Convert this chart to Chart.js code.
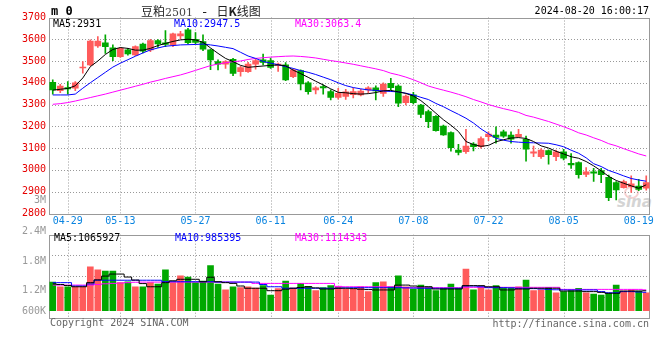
<!DOCTYPE html>
<html>
<head>
<meta charset="utf-8">
<script src="https://cdn.jsdelivr.net/npm/chart.js@4.4.1/dist/chart.umd.min.js"></script>
<style>
  html, body { margin: 0; padding: 0; background: #fff; }
  #wrap { position: relative; width: 660px; height: 360px; overflow: hidden;
          font-family: "DejaVu Sans Mono", monospace; font-size: 10px; }
  #wrap canvas { position: absolute; left: 0; top: 0; }
  .t { position: absolute; white-space: nowrap; line-height: 12px; }
  .vl { position: absolute; right: 614px; color: #999; line-height: 12px; text-align: right; }
</style>
</head>
<body>
<div id="wrap">
  <!-- watermark sits under the transparent canvases -->
  <div class="t" style="left:624px;top:186px;width:11px;height:9px;border:2px solid rgba(235,150,150,0.45);border-radius:50%"></div>
  <div class="t" style="left:617px;top:195px;font-family:'DejaVu Sans';font-style:italic;font-weight:bold;font-size:15px;line-height:15px;color:#d4d4d4">sina</div>

  <canvas id="kChart" width="660" height="360"></canvas>
  <canvas id="volChart" width="660" height="360"></canvas>

  <div class="t" style="left:51px;top:5px;font-weight:bold;font-size:12px">m 0</div>
  <div class="t" style="left:141px;top:2px;font-family:'Noto Sans CJK SC';font-size:12px;line-height:17px;color:#222">豆粕<span style="font-family:'DejaVu Serif';font-size:11px;color:#444">2501</span><span style="font-family:'DejaVu Sans Mono';font-size:13px"> - </span>日<b>K</b>线图</div>
  <div class="t" style="right:11px;top:5px;color:#000">2024-08-20 16:00:17</div>

  <div class="t" style="left:53px;top:18px;color:#000">MA5:2931</div>
  <div class="t" style="left:174px;top:18px;color:#0000ff">MA10:2947.5</div>
  <div class="t" style="left:295px;top:18px;color:#ff00ff">MA30:3063.4</div>

  <div class="vl" style="top:194px">3M</div>
  <div class="vl" style="top:225px">2.4M</div>
  <div class="vl" style="top:254.5px">1.8M</div>
  <div class="vl" style="top:284px">1.2M</div>
  <div class="vl" style="top:304.5px">600K</div>

  <div class="t" style="left:54px;top:232px;color:#000">MA5:1065927</div>
  <div class="t" style="left:175px;top:232px;color:#0000ff">MA10:985395</div>
  <div class="t" style="left:295px;top:232px;color:#ff00ff">MA30:1114343</div>

  <div class="t" style="left:50px;top:317px;color:#666">Copyright 2024 SINA.COM</div>
  <div class="t" style="right:11px;top:318px;color:#666">http://finance.sina.com.cn</div>
</div>

<script>
// trading days, 2024-04-25 .. 2024-08-20
const dates = [
  '04-25','04-26','04-29','04-30','05-06','05-07','05-08','05-09','05-10','05-13',
  '05-14','05-15','05-16','05-17','05-20','05-21','05-22','05-23','05-24','05-27',
  '05-28','05-29','05-30','05-31','06-03','06-04','06-05','06-06','06-07','06-11',
  '06-12','06-13','06-14','06-17','06-18','06-19','06-20','06-21','06-24','06-25',
  '06-26','06-27','06-28','07-01','07-02','07-03','07-04','07-05','07-08','07-09',
  '07-10','07-11','07-12','07-15','07-16','07-17','07-18','07-19','07-22','07-23',
  '07-24','07-25','07-26','07-29','07-30','07-31','08-01','08-02','08-05','08-06',
  '08-07','08-08','08-09','08-12','08-13','08-14','08-15','08-16','08-19','08-20'
];
const shownDates = ['04-29','05-13','05-27','06-11','06-24','07-08','07-22','08-05','08-19'];
const gridDates  = ['04-29','05-13','05-27','06-11','06-24','07-08','07-22','08-05'];

const opens = [
  3402,3364,3378,3375,3468,3482,3569,3584,3561,3520, 3551,3528,3578,3551,3594,3584,3574,3615,3643,3600,
  3589,3551,3497,3486,3508,3451,3451,3486,3505,3502, 3480,3482,3428,3456,3400,3367,3382,3359,3333,3337,
  3345,3344,3367,3377,3351,3397,3385,3309,3344,3298, 3267,3246,3201,3171,3091,3083,3118,3106,3152,3160,
  3175,3160,3152,3140,3076,3060,3088,3060,3083,3030, 3033,2979,2991,2996,2965,2941,2918,2922,2925,2915
];
const highs = [
  3413,3393,3405,3405,3497,3597,3612,3620,3574,3563, 3558,3570,3582,3600,3598,3640,3628,3636,3650,3631,
  3620,3555,3505,3502,3512,3476,3494,3508,3532,3514, 3490,3493,3462,3459,3405,3382,3390,3367,3374,3370,
  3376,3370,3382,3386,3400,3420,3390,3344,3356,3301, 3275,3249,3206,3175,3117,3186,3125,3152,3175,3198,
  3183,3175,3186,3155,3109,3097,3092,3091,3094,3075, 3037,3010,3007,3007,2976,2946,2953,2972,2956,2972
];
const lows = [
  3348,3354,3348,3364,3444,3479,3563,3535,3502,3517, 3527,3524,3537,3543,3563,3566,3566,3600,3578,3578,
  3548,3460,3459,3466,3433,3430,3447,3462,3482,3466, 3452,3410,3424,3367,3348,3349,3348,3321,3325,3324,
  3330,3340,3352,3321,3337,3368,3290,3298,3303,3240, 3194,3178,3158,3086,3068,3075,3087,3099,3134,3122,
  3149,3122,3149,3040,3060,3052,3026,3042,3045,3006, 2961,2968,2946,2941,2858,2862,2915,2896,2904,2906
];
const closes = [
  3367,3385,3372,3400,3472,3592,3592,3566,3520,3558, 3533,3566,3545,3594,3579,3576,3625,3625,3584,3585,
  3554,3505,3485,3497,3443,3470,3486,3502,3493,3471, 3486,3413,3459,3395,3359,3377,3376,3333,3351,3358,
  3360,3362,3377,3362,3394,3378,3306,3339,3309,3255, 3221,3180,3160,3102,3080,3109,3106,3144,3164,3149,
  3155,3141,3163,3095,3083,3091,3069,3083,3053,3022, 2977,2991,2985,2977,2872,2907,2946,2935,2910,2941
];

const ma5 = [
  3366,3370,3374,3386,3422,3474,3500,3530,3553,3562, 3558,3550,3550,3558,3571,3581,3590,3597,3600,3597,
  3586,3560,3535,3512,3497,3480,3471,3474,3477,3480, 3482,3478,3458,3442,3425,3407,3390,3372,3356,3354,
  3350,3348,3350,3355,3363,3365,3358,3351,3339,3318, 3290,3260,3230,3205,3176,3130,3116,3108,3112,3129,
  3138,3146,3148,3144,3130,3110,3100,3085,3073,3060, 3053,3038,3018,2995,2970,2951,2938,2926,2915,2931
];
const ma10 = [
  3344,3344,3344,3348,3375,3400,3424,3448,3472,3490, 3506,3522,3537,3551,3560,3568,3571,3574,3575,3576,
  3578,3574,3569,3563,3557,3540,3523,3512,3498,3490, 3483,3474,3466,3456,3448,3438,3426,3414,3400,3387,
  3378,3372,3367,3365,3362,3360,3358,3352,3344,3333, 3323,3305,3290,3272,3255,3237,3215,3188,3166,3145,
  3136,3130,3127,3125,3124,3123,3122,3115,3106,3090, 3076,3055,3028,3015,2997,2985,2972,2960,2953,2947.5
];
const ma30 = [
  3301,3304,3309,3316,3324,3332,3340,3348,3357,3366, 3375,3384,3393,3403,3411,3420,3428,3436,3446,3457,
  3468,3479,3486,3492,3497,3500,3507,3512,3515,3518, 3520,3522,3523,3521,3518,3514,3508,3502,3497,3491,
  3485,3478,3471,3464,3456,3444,3436,3426,3414,3400, 3385,3375,3366,3357,3347,3336,3323,3312,3300,3290,
  3281,3273,3264,3250,3242,3232,3222,3210,3198,3185, 3170,3160,3147,3135,3120,3110,3097,3085,3073,3063.4
];

// volume in lots
const volumes = [
  1530000,1270000,1270000,1270000,1270000,2340000,2180000,2120000,2120000,1500000,
  1550000,1270000,1270000,1500000,1430000,2180000,1500000,1870000,1800000,1500000,
  1590000,2410000,1430000,1110000,1270000,1230000,1270000,1210000,1340000,840000,
  1180000,1590000,1210000,1460000,1300000,1070000,1230000,1340000,1280000,1140000,
  1140000,1280000,1020000,1500000,1550000,1280000,1860000,1280000,1160000,1370000,
  1280000,1070000,1200000,1430000,1200000,2230000,1120000,1280000,1120000,1340000,
  1230000,1230000,1280000,1640000,1070000,1110000,1230000,960000,1020000,1070000,
  1200000,960000,890000,840000,930000,1370000,1050000,1110000,1050000,960000
];
const volMa5 = [
  1430000,1400000,1350000,1280000,1280000,1500000,1650000,1850000,1960000,1960000,
  1800000,1640000,1450000,1280000,1280000,1500000,1600000,1680000,1680000,1680000,
  1550000,1790000,1550000,1500000,1460000,1320000,1200000,1200000,1200000,1070000,
  1070000,1150000,1200000,1240000,1280000,1220000,1160000,1160000,1200000,1200000,
  1180000,1150000,1130000,1110000,1110000,1110000,1370000,1370000,1320000,1280000,
  1280000,1160000,1160000,1160000,1160000,1340000,1340000,1340000,1280000,1280000,
  1110000,1110000,1160000,1160000,1200000,1200000,1200000,1200000,1050000,1050000,
  1050000,1020000,1020000,980000,930000,930000,1050000,1050000,1050000,1065927
];
const volMa10 = [
  1500000,1500000,1500000,1320000,1320000,1430000,1630000,1630000,1630000,1630000,
  1630000,1630000,1630000,1630000,1630000,1550000,1550000,1550000,1550000,1550000,
  1550000,1550000,1530000,1530000,1530000,1530000,1530000,1530000,1400000,1280000,
  1280000,1200000,1200000,1200000,1200000,1200000,1200000,1200000,1210000,1220000,
  1230000,1230000,1230000,1230000,1230000,1230000,1230000,1220000,1210000,1200000,
  1200000,1200000,1200000,1200000,1200000,1320000,1320000,1280000,1230000,1230000,
  1230000,1220000,1200000,1200000,1180000,1160000,1140000,1120000,1110000,1110000,
  1110000,1110000,1110000,1020000,960000,960000,1020000,1020000,1000000,985395
];
const volMa30 = [
  1370000,1370000,1370000,1370000,1370000,1370000,1400000,1440000,1460000,1480000,
  1500000,1520000,1530000,1530000,1530000,1530000,1530000,1530000,1530000,1530000,
  1530000,1530000,1530000,1530000,1530000,1530000,1530000,1460000,1460000,1460000,
  1460000,1460000,1460000,1460000,1460000,1460000,1460000,1460000,1300000,1280000,
  1280000,1280000,1280000,1280000,1280000,1280000,1280000,1230000,1230000,1230000,
  1230000,1230000,1230000,1230000,1230000,1250000,1250000,1250000,1250000,1250000,
  1250000,1250000,1250000,1250000,1250000,1250000,1250000,1250000,1140000,1140000,
  1140000,1140000,1140000,1140000,1140000,1140000,1140000,1140000,1140000,1114343
];

const UP = '#ff5b5b';
const DOWN = '#00a800';
const GRID = '#999999';
const FRAME = '#999999';
const MONO = { family: 'DejaVu Sans Mono', size: 10 };

const candleColors = closes.map((c, i) => c >= opens[i] ? UP : DOWN);
const bodies = opens.map((o, i) => [o, closes[i]]);
const wicks = lows.map((l, i) => [l, highs[i]]);

// dotted grid at the date ticks and inner y ticks, plus a grey frame
const panelPlugin = {
    id: 'panel',
    beforeDatasetsDraw(chart) {
        const a = chart.chartArea;
        const c = chart.ctx;
        const xs = chart.scales.x;
        const ys = chart.scales.y;
        c.save();
        c.lineWidth = 1;
        c.strokeStyle = GRID;
        c.setLineDash([1, 2]);
        c.beginPath();
        gridDates.forEach(d => {
            const x = Math.round(xs.getPixelForValue(dates.indexOf(d))) + 0.5;
            c.moveTo(x, a.top);
            c.lineTo(x, a.bottom);
        });
        ys.ticks.forEach(t => {
            if (t.value <= ys.min || t.value >= ys.max) return;
            const y = Math.round(ys.getPixelForValue(t.value)) + 0.5;
            c.moveTo(a.left, y);
            c.lineTo(a.right, y);
        });
        c.stroke();
        c.setLineDash([]);
        c.strokeStyle = FRAME;
        c.strokeRect(Math.round(a.left) + 0.5, Math.round(a.top) + 0.5,
                     Math.round(a.right - a.left) - 1, Math.round(a.bottom - a.top));
        c.restore();
    }
};

function lineSet(data, color, stepped) {
    return {
        type: 'line', data: data, borderColor: color, borderWidth: 1,
        pointRadius: 0, fill: false, tension: 0, stepped: stepped || false, order: 0
    };
}

new Chart(document.getElementById('kChart'), {
    type: 'bar',
    data: {
        labels: dates,
        datasets: [
            lineSet(ma5, '#000000'),
            lineSet(ma10, '#0000ff'),
            lineSet(ma30, '#ff00ff'),
            { data: bodies, backgroundColor: candleColors, barThickness: 6,
              minBarLength: 1, grouped: false, order: 1 },
            { data: wicks, backgroundColor: candleColors, barThickness: 1,
              grouped: false, order: 2 }
        ]
    },
    options: {
        responsive: false,
        animation: false,
        layout: { padding: { left: 0, right: 10, top: 17.5, bottom: 126.7 } },
        plugins: { legend: { display: false }, tooltip: { enabled: false } },
        scales: {
            x: {
                grid: { display: false, drawTicks: false },
                border: { display: false },
                ticks: {
                    autoSkip: false, maxRotation: 0, padding: 2, color: '#0a84e0', font: MONO,
                    callback: (v, i) => shownDates.includes(dates[i]) ? dates[i] : ''
                },
                afterFit: s => { s.height = 20; }
            },
            y: {
                min: 2800, max: 3700,
                ticks: { stepSize: 100, color: '#e60000', font: MONO, padding: 3,
                         callback: v => String(v) },
                grid: { display: false, drawTicks: false },
                border: { display: false },
                afterFit: s => { s.width = 49; }
            }
        }
    },
    plugins: [panelPlugin]
});

new Chart(document.getElementById('volChart'), {
    type: 'bar',
    data: {
        labels: dates,
        datasets: [
            lineSet(volMa5, '#000000', 'middle'),
            lineSet(volMa10, '#0000ff', 'middle'),
            lineSet(volMa30, '#ff00ff', 'middle'),
            { data: volumes, backgroundColor: candleColors, barThickness: 6, order: 1 }
        ]
    },
    options: {
        responsive: false,
        animation: false,
        layout: { padding: { left: 0, right: 10, top: 234.7, bottom: 42.3 } },
        plugins: { legend: { display: false }, tooltip: { enabled: false } },
        scales: {
            x: {
                grid: { display: false, drawTicks: false },
                border: { display: false },
                ticks: { display: false },
                afterFit: s => { s.height = 0; }
            },
            y: {
                min: -375000, max: 4065000,
                // three dotted lines splitting the panel in quarters
                afterBuildTicks: s => {
                    s.ticks = [1, 2, 3].map(k => ({ value: s.min + (s.max - s.min) * k / 4 }));
                },
                ticks: { display: false },
                grid: { display: false, drawTicks: false },
                border: { display: false },
                afterFit: s => { s.width = 49; }
            }
        }
    },
    plugins: [panelPlugin]
});
</script>
</body>
</html>
